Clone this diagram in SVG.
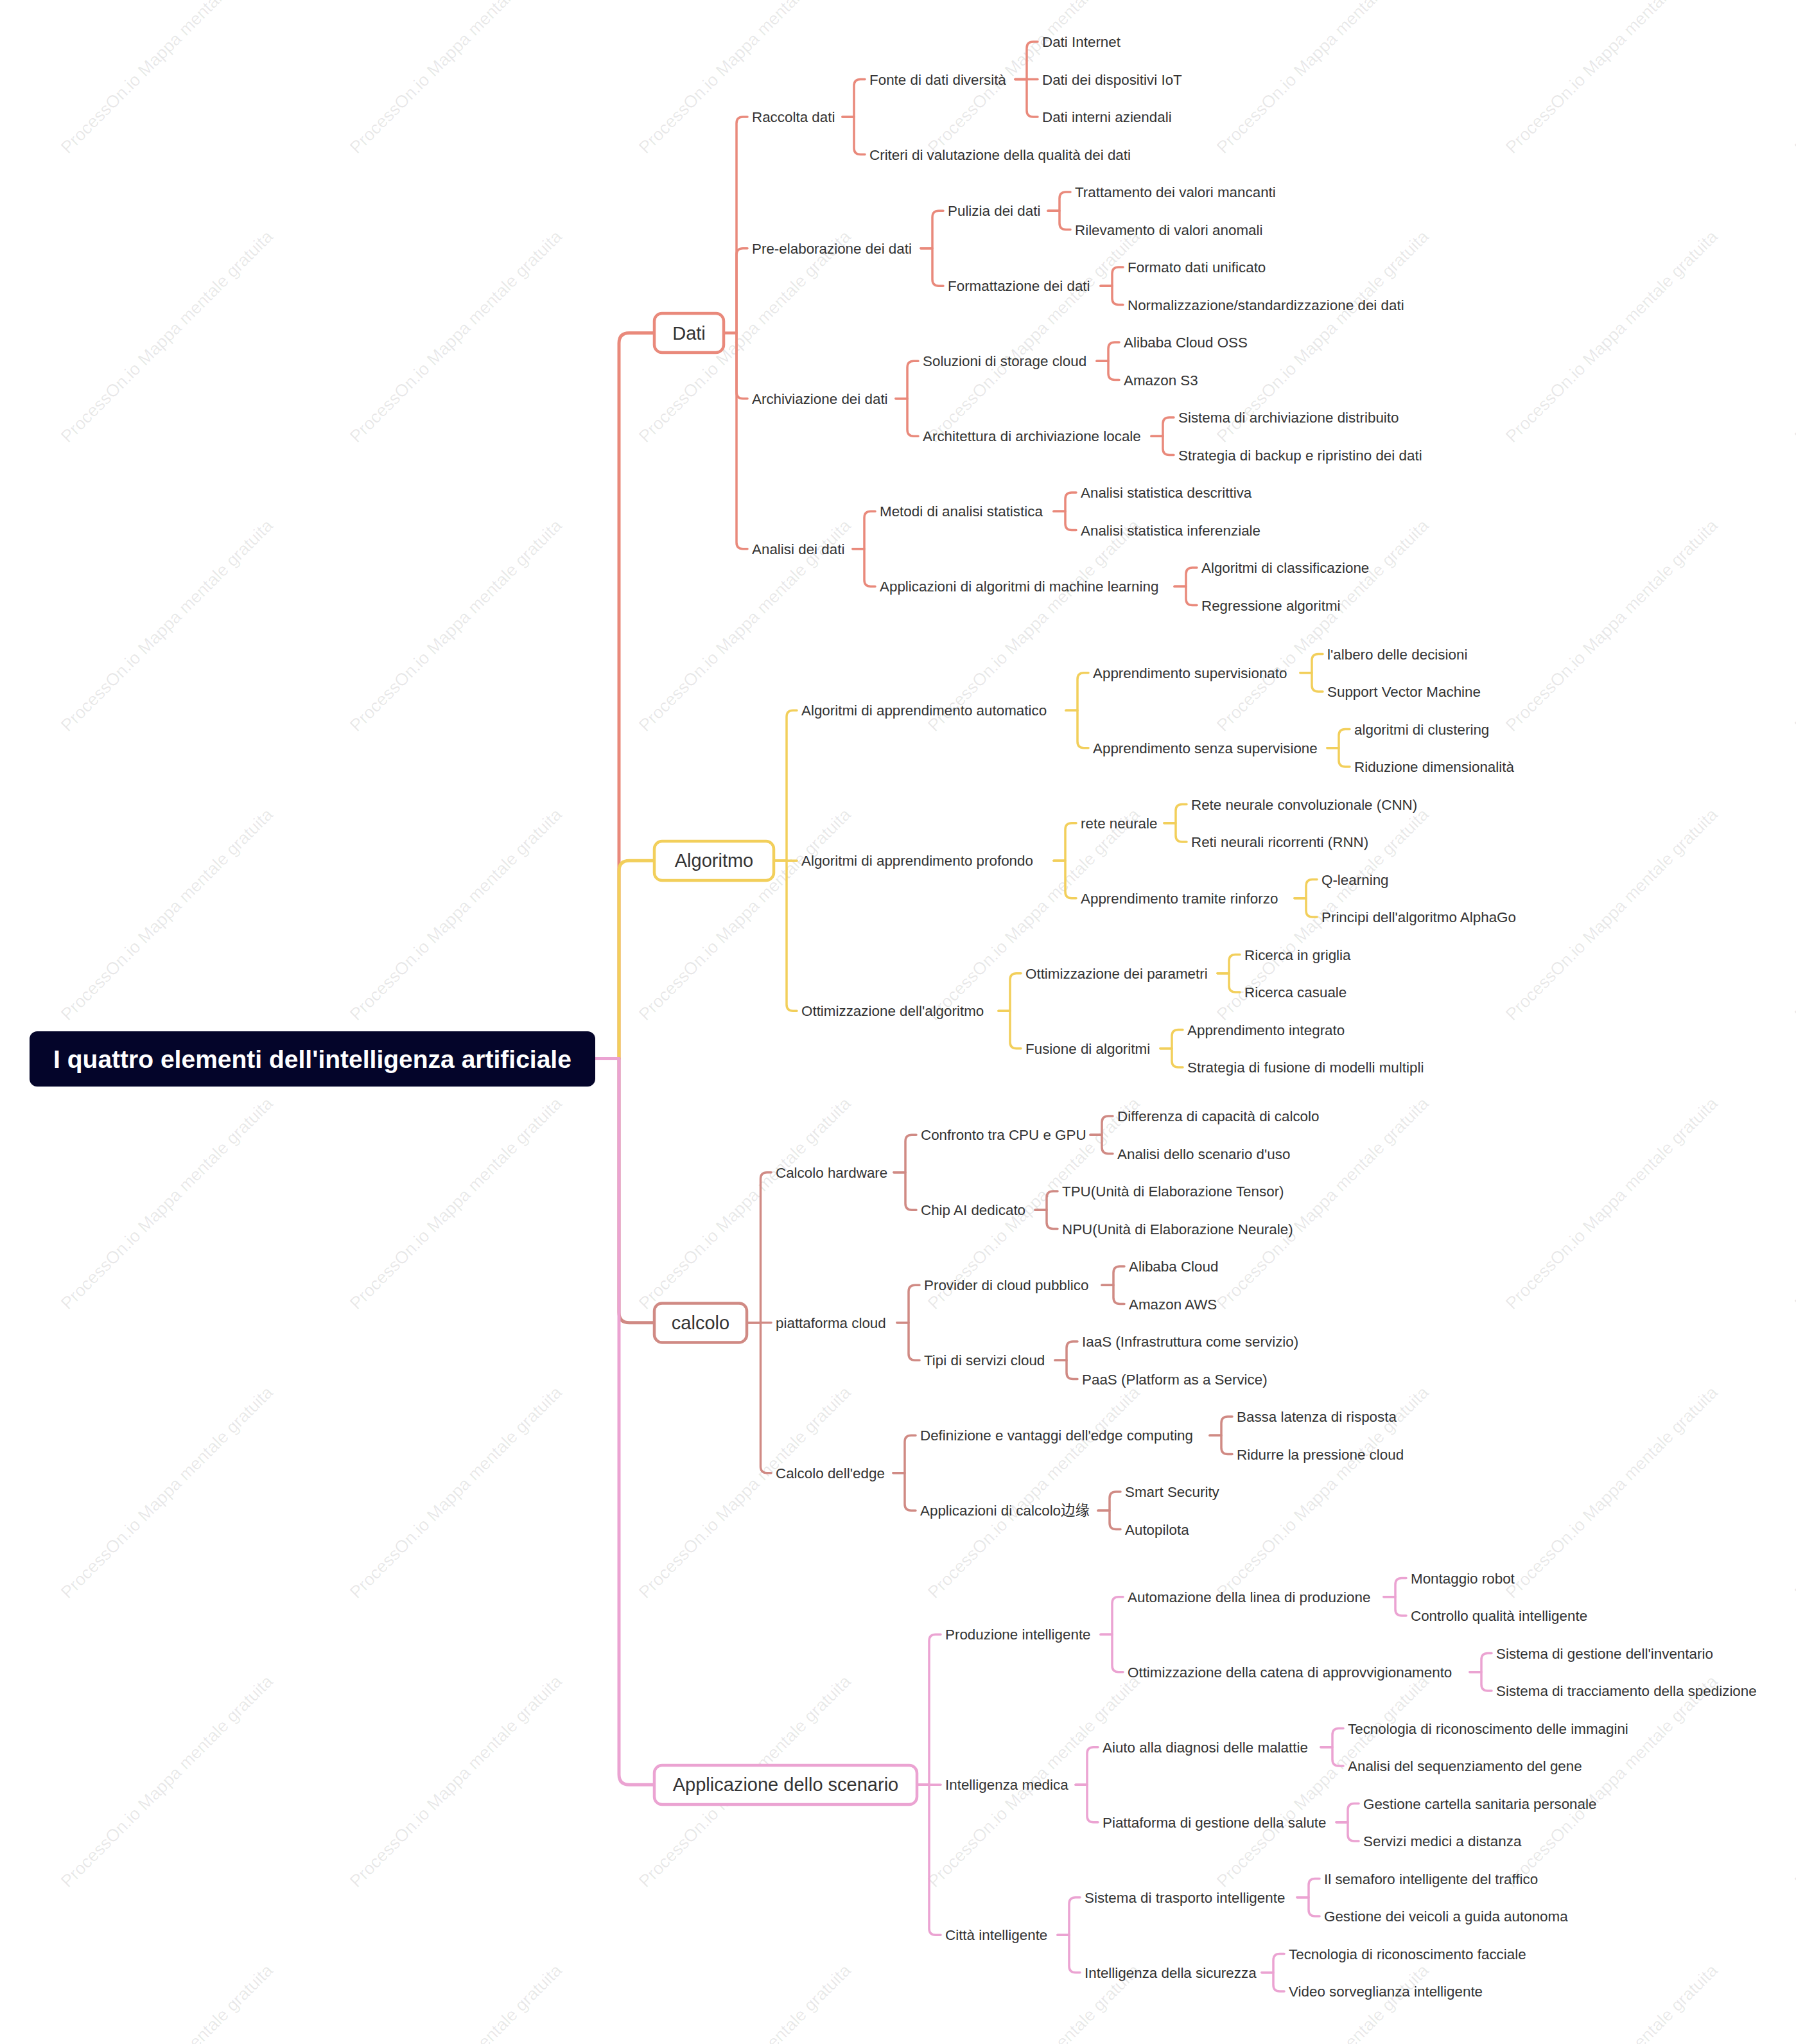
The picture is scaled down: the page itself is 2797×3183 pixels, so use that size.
<svg xmlns="http://www.w3.org/2000/svg" xmlns:xlink="http://www.w3.org/1999/xlink" width="2797" height="3183" viewBox="0 0 2797 3183">
<defs>
<style>
.t{font-family:"Liberation Sans",Arial,"Noto Sans CJK SC",sans-serif;font-size:22.4px;fill:#333333}
.t1{font-family:"Liberation Sans",Arial,"Noto Sans CJK SC",sans-serif;font-size:29px;fill:#333333;text-anchor:middle}
.root{font-family:"Liberation Sans",Arial,sans-serif;font-size:39px;font-weight:bold;fill:#ffffff;text-anchor:middle}
.wm{font-family:"Liberation Sans",Arial,sans-serif;font-size:27px;fill:#000000;fill-opacity:0.09;text-anchor:middle}
.c{fill:none;stroke-linecap:round;stroke-linejoin:round;stroke-width:3.5}
.tr{fill:none;stroke-linejoin:round;stroke-width:5}
.d{stroke:#E9897B}
.a{stroke:#F2CF5B}
.k{stroke:#D08A84}
.p{stroke:#EBA3D2}
.box{fill:#ffffff;stroke-width:4.5}
</style>
<text id="wm" class="wm" x="0" y="9">ProcessOn.io Mappa mentale gratuita</text>
</defs>
<rect width="2797" height="3183" fill="#ffffff"/>
<g id="watermarks">
<use xlink:href="#wm" transform="translate(260,74) rotate(-45)"/><use xlink:href="#wm" transform="translate(710,74) rotate(-45)"/><use xlink:href="#wm" transform="translate(1160,74) rotate(-45)"/><use xlink:href="#wm" transform="translate(1610,74) rotate(-45)"/><use xlink:href="#wm" transform="translate(2060,74) rotate(-45)"/><use xlink:href="#wm" transform="translate(2510,74) rotate(-45)"/><use xlink:href="#wm" transform="translate(2960,74) rotate(-45)"/>
<use xlink:href="#wm" transform="translate(260,524) rotate(-45)"/><use xlink:href="#wm" transform="translate(710,524) rotate(-45)"/><use xlink:href="#wm" transform="translate(1160,524) rotate(-45)"/><use xlink:href="#wm" transform="translate(1610,524) rotate(-45)"/><use xlink:href="#wm" transform="translate(2060,524) rotate(-45)"/><use xlink:href="#wm" transform="translate(2510,524) rotate(-45)"/><use xlink:href="#wm" transform="translate(2960,524) rotate(-45)"/>
<use xlink:href="#wm" transform="translate(260,974) rotate(-45)"/><use xlink:href="#wm" transform="translate(710,974) rotate(-45)"/><use xlink:href="#wm" transform="translate(1160,974) rotate(-45)"/><use xlink:href="#wm" transform="translate(1610,974) rotate(-45)"/><use xlink:href="#wm" transform="translate(2060,974) rotate(-45)"/><use xlink:href="#wm" transform="translate(2510,974) rotate(-45)"/><use xlink:href="#wm" transform="translate(2960,974) rotate(-45)"/>
<use xlink:href="#wm" transform="translate(260,1424) rotate(-45)"/><use xlink:href="#wm" transform="translate(710,1424) rotate(-45)"/><use xlink:href="#wm" transform="translate(1160,1424) rotate(-45)"/><use xlink:href="#wm" transform="translate(1610,1424) rotate(-45)"/><use xlink:href="#wm" transform="translate(2060,1424) rotate(-45)"/><use xlink:href="#wm" transform="translate(2510,1424) rotate(-45)"/><use xlink:href="#wm" transform="translate(2960,1424) rotate(-45)"/>
<use xlink:href="#wm" transform="translate(260,1874) rotate(-45)"/><use xlink:href="#wm" transform="translate(710,1874) rotate(-45)"/><use xlink:href="#wm" transform="translate(1160,1874) rotate(-45)"/><use xlink:href="#wm" transform="translate(1610,1874) rotate(-45)"/><use xlink:href="#wm" transform="translate(2060,1874) rotate(-45)"/><use xlink:href="#wm" transform="translate(2510,1874) rotate(-45)"/><use xlink:href="#wm" transform="translate(2960,1874) rotate(-45)"/>
<use xlink:href="#wm" transform="translate(260,2324) rotate(-45)"/><use xlink:href="#wm" transform="translate(710,2324) rotate(-45)"/><use xlink:href="#wm" transform="translate(1160,2324) rotate(-45)"/><use xlink:href="#wm" transform="translate(1610,2324) rotate(-45)"/><use xlink:href="#wm" transform="translate(2060,2324) rotate(-45)"/><use xlink:href="#wm" transform="translate(2510,2324) rotate(-45)"/><use xlink:href="#wm" transform="translate(2960,2324) rotate(-45)"/>
<use xlink:href="#wm" transform="translate(260,2774) rotate(-45)"/><use xlink:href="#wm" transform="translate(710,2774) rotate(-45)"/><use xlink:href="#wm" transform="translate(1160,2774) rotate(-45)"/><use xlink:href="#wm" transform="translate(1610,2774) rotate(-45)"/><use xlink:href="#wm" transform="translate(2060,2774) rotate(-45)"/><use xlink:href="#wm" transform="translate(2510,2774) rotate(-45)"/><use xlink:href="#wm" transform="translate(2960,2774) rotate(-45)"/>
<use xlink:href="#wm" transform="translate(260,3224) rotate(-45)"/><use xlink:href="#wm" transform="translate(710,3224) rotate(-45)"/><use xlink:href="#wm" transform="translate(1160,3224) rotate(-45)"/><use xlink:href="#wm" transform="translate(1610,3224) rotate(-45)"/><use xlink:href="#wm" transform="translate(2060,3224) rotate(-45)"/><use xlink:href="#wm" transform="translate(2510,3224) rotate(-45)"/><use xlink:href="#wm" transform="translate(2960,3224) rotate(-45)"/>
</g>
<g id="connectors">
<path class="tr d" d="M927,1648.5H964V534.5Q964,518.5 980,518.5H1019"/>
<path class="tr a" d="M927,1648.5H964V1356.25Q964,1340.25 980,1340.25H1019"/>
<path class="tr k" d="M927,1648.5H964V2043.75Q964,2059.75 980,2059.75H1019"/>
<path class="tr p" d="M927,1648.5H964V2763.25Q964,2779.25 980,2779.25H1019"/>
<g class="c d">
<path d="M1129,518.5H1147V192Q1147,182 1157,182H1164"/>
<path d="M1129,518.5H1147V396.75Q1147,386.75 1157,386.75H1164"/>
<path d="M1129,518.5H1147V610.75Q1147,620.75 1157,620.75H1164"/>
<path d="M1129,518.5H1147V844.75Q1147,854.75 1157,854.75H1164"/>
<path d="M1312,182H1330V133.5Q1330,123.5 1340,123.5H1347"/>
<path d="M1312,182H1330V230.5Q1330,240.5 1340,240.5H1347"/>
<path d="M1581,123.5H1599V75Q1599,65 1609,65H1616"/>
<path d="M1581,123.5H1616"/>
<path d="M1581,123.5H1599V172Q1599,182 1609,182H1616"/>
<path d="M1434,386.75H1452V338.25Q1452,328.25 1462,328.25H1469"/>
<path d="M1434,386.75H1452V435.25Q1452,445.25 1462,445.25H1469"/>
<path d="M1632,328.25H1650V309Q1650,299 1660,299H1667"/>
<path d="M1632,328.25H1650V347.5Q1650,357.5 1660,357.5H1667"/>
<path d="M1714,445.25H1732V426Q1732,416 1742,416H1749"/>
<path d="M1714,445.25H1732V464.5Q1732,474.5 1742,474.5H1749"/>
<path d="M1395,620.75H1413V572.25Q1413,562.25 1423,562.25H1430"/>
<path d="M1395,620.75H1413V669.25Q1413,679.25 1423,679.25H1430"/>
<path d="M1708,562.25H1726V543Q1726,533 1736,533H1743"/>
<path d="M1708,562.25H1726V581.5Q1726,591.5 1736,591.5H1743"/>
<path d="M1793,679.25H1811V660Q1811,650 1821,650H1828"/>
<path d="M1793,679.25H1811V698.5Q1811,708.5 1821,708.5H1828"/>
<path d="M1328,854.75H1346V806.25Q1346,796.25 1356,796.25H1363"/>
<path d="M1328,854.75H1346V903.25Q1346,913.25 1356,913.25H1363"/>
<path d="M1641,796.25H1659V777Q1659,767 1669,767H1676"/>
<path d="M1641,796.25H1659V815.5Q1659,825.5 1669,825.5H1676"/>
<path d="M1829,913.25H1847V894Q1847,884 1857,884H1864"/>
<path d="M1829,913.25H1847V932.5Q1847,942.5 1857,942.5H1864"/>
</g>
<g class="c a">
<path d="M1207,1340.25H1225V1116.25Q1225,1106.25 1235,1106.25H1241"/>
<path d="M1207,1340.25H1241"/>
<path d="M1207,1340.25H1225V1564.25Q1225,1574.25 1235,1574.25H1241"/>
<path d="M1660,1106.25H1678V1057.75Q1678,1047.75 1688,1047.75H1695"/>
<path d="M1660,1106.25H1678V1154.75Q1678,1164.75 1688,1164.75H1695"/>
<path d="M2025,1047.75H2043V1028.5Q2043,1018.5 2053,1018.5H2060"/>
<path d="M2025,1047.75H2043V1067Q2043,1077 2053,1077H2060"/>
<path d="M2067,1164.75H2085V1145.5Q2085,1135.5 2095,1135.5H2102"/>
<path d="M2067,1164.75H2085V1184Q2085,1194 2095,1194H2102"/>
<path d="M1641,1340.25H1659V1291.75Q1659,1281.75 1669,1281.75H1676"/>
<path d="M1641,1340.25H1659V1388.75Q1659,1398.75 1669,1398.75H1676"/>
<path d="M1813,1281.75H1831V1262.5Q1831,1252.5 1841,1252.5H1848"/>
<path d="M1813,1281.75H1831V1301Q1831,1311 1841,1311H1848"/>
<path d="M2016,1398.75H2034V1379.5Q2034,1369.5 2044,1369.5H2051"/>
<path d="M2016,1398.75H2034V1418Q2034,1428 2044,1428H2051"/>
<path d="M1555,1574.25H1573V1525.75Q1573,1515.75 1583,1515.75H1590"/>
<path d="M1555,1574.25H1573V1622.75Q1573,1632.75 1583,1632.75H1590"/>
<path d="M1896,1515.75H1914V1496.5Q1914,1486.5 1924,1486.5H1931"/>
<path d="M1896,1515.75H1914V1535Q1914,1545 1924,1545H1931"/>
<path d="M1807,1632.75H1825V1613.5Q1825,1603.5 1835,1603.5H1842"/>
<path d="M1807,1632.75H1825V1652Q1825,1662 1835,1662H1842"/>
</g>
<g class="c k">
<path d="M1165,2059.75H1184.5V1835.75Q1184.5,1825.75 1194.5,1825.75H1201"/>
<path d="M1165,2059.75H1201"/>
<path d="M1165,2059.75H1184.5V2283.75Q1184.5,2293.75 1194.5,2293.75H1201"/>
<path d="M1392,1825.75H1410V1777.25Q1410,1767.25 1420,1767.25H1427"/>
<path d="M1392,1825.75H1410V1874.25Q1410,1884.25 1420,1884.25H1427"/>
<path d="M1698,1767.25H1716V1748Q1716,1738 1726,1738H1733"/>
<path d="M1698,1767.25H1716V1786.5Q1716,1796.5 1726,1796.5H1733"/>
<path d="M1612,1884.25H1630V1865Q1630,1855 1640,1855H1647"/>
<path d="M1612,1884.25H1630V1903.5Q1630,1913.5 1640,1913.5H1647"/>
<path d="M1397,2059.75H1415V2011.25Q1415,2001.25 1425,2001.25H1432"/>
<path d="M1397,2059.75H1415V2108.25Q1415,2118.25 1425,2118.25H1432"/>
<path d="M1716,2001.25H1734V1982Q1734,1972 1744,1972H1751"/>
<path d="M1716,2001.25H1734V2020.5Q1734,2030.5 1744,2030.5H1751"/>
<path d="M1643,2118.25H1661V2099Q1661,2089 1671,2089H1678"/>
<path d="M1643,2118.25H1661V2137.5Q1661,2147.5 1671,2147.5H1678"/>
<path d="M1391,2293.75H1409V2245.25Q1409,2235.25 1419,2235.25H1426"/>
<path d="M1391,2293.75H1409V2342.25Q1409,2352.25 1419,2352.25H1426"/>
<path d="M1884,2235.25H1902V2216Q1902,2206 1912,2206H1919"/>
<path d="M1884,2235.25H1902V2254.5Q1902,2264.5 1912,2264.5H1919"/>
<path d="M1710,2352.25H1728V2333Q1728,2323 1738,2323H1745"/>
<path d="M1710,2352.25H1728V2371.5Q1728,2381.5 1738,2381.5H1745"/>
</g>
<g class="c p">
<path d="M1430,2779.25H1447V2555.25Q1447,2545.25 1457,2545.25H1465"/>
<path d="M1430,2779.25H1465"/>
<path d="M1430,2779.25H1447V3003.25Q1447,3013.25 1457,3013.25H1465"/>
<path d="M1714,2545.25H1732V2496.75Q1732,2486.75 1742,2486.75H1749"/>
<path d="M1714,2545.25H1732V2593.75Q1732,2603.75 1742,2603.75H1749"/>
<path d="M2155,2486.75H2173V2467.5Q2173,2457.5 2183,2457.5H2190"/>
<path d="M2155,2486.75H2173V2506Q2173,2516 2183,2516H2190"/>
<path d="M2289,2603.75H2307V2584.5Q2307,2574.5 2317,2574.5H2323"/>
<path d="M2289,2603.75H2307V2623Q2307,2633 2317,2633H2323"/>
<path d="M1675,2779.25H1693V2730.75Q1693,2720.75 1703,2720.75H1710"/>
<path d="M1675,2779.25H1693V2827.75Q1693,2837.75 1703,2837.75H1710"/>
<path d="M2057,2720.75H2075V2701.5Q2075,2691.5 2085,2691.5H2092"/>
<path d="M2057,2720.75H2075V2740Q2075,2750 2085,2750H2092"/>
<path d="M2081,2837.75H2099V2818.5Q2099,2808.5 2109,2808.5H2116"/>
<path d="M2081,2837.75H2099V2857Q2099,2867 2109,2867H2116"/>
<path d="M1647,3013.25H1665V2964.75Q1665,2954.75 1675,2954.75H1682"/>
<path d="M1647,3013.25H1665V3061.75Q1665,3071.75 1675,3071.75H1682"/>
<path d="M2020,2954.75H2038V2935.5Q2038,2925.5 2048,2925.5H2055"/>
<path d="M2020,2954.75H2038V2974Q2038,2984 2048,2984H2055"/>
<path d="M1965,3071.75H1983V3052.5Q1983,3042.5 1993,3042.5H2000"/>
<path d="M1965,3071.75H1983V3091Q1983,3101 1993,3101H2000"/>
</g>
</g>
<g id="n-root"><rect x="46" y="1606" width="881" height="86" rx="12" fill="#04052A"/><text class="root" x="486.5" y="1662.5">I quattro elementi dell'intelligenza artificiale</text></g>
<g id="n-dati"><rect class="box d" x="1019" y="488" width="108" height="61" rx="12"/><text class="t1" x="1073" y="528.5">Dati</text></g>
<g id="n-algoritmo"><rect class="box a" x="1019" y="1310" width="186" height="61" rx="12"/><text class="t1" x="1112" y="1350.25">Algoritmo</text></g>
<g id="n-calcolo"><rect class="box k" x="1019" y="2029.5" width="144" height="61" rx="12"/><text class="t1" x="1091" y="2069.75">calcolo</text></g>
<g id="n-applicazione"><rect class="box p" x="1019" y="2749" width="409" height="61" rx="12"/><text class="t1" x="1223.5" y="2789.25">Applicazione dello scenario</text></g>
<g id="n-raccolta"><text class="t" x="1171" y="190">Raccolta dati</text></g>
<g id="n-fonte"><text class="t" x="1354" y="131.5">Fonte di dati diversità</text></g>
<g id="n-internet"><text class="t" x="1623" y="73">Dati Internet</text></g>
<g id="n-iot"><text class="t" x="1623" y="131.5">Dati dei dispositivi IoT</text></g>
<g id="n-interni"><text class="t" x="1623" y="190">Dati interni aziendali</text></g>
<g id="n-criteri"><text class="t" x="1354" y="248.5">Criteri di valutazione della qualità dei dati</text></g>
<g id="n-pre"><text class="t" x="1171" y="394.75">Pre-elaborazione dei dati</text></g>
<g id="n-pulizia"><text class="t" x="1476" y="336.25">Pulizia dei dati</text></g>
<g id="n-trattamento"><text class="t" x="1674" y="307">Trattamento dei valori mancanti</text></g>
<g id="n-rilevamento"><text class="t" x="1674" y="365.5">Rilevamento di valori anomali</text></g>
<g id="n-formattazione"><text class="t" x="1476" y="453.25">Formattazione dei dati</text></g>
<g id="n-formato"><text class="t" x="1756" y="424">Formato dati unificato</text></g>
<g id="n-normalizzazione"><text class="t" x="1756" y="482.5">Normalizzazione/standardizzazione dei dati</text></g>
<g id="n-archiviazione"><text class="t" x="1171" y="628.75">Archiviazione dei dati</text></g>
<g id="n-soluzioni"><text class="t" x="1437" y="570.25">Soluzioni di storage cloud</text></g>
<g id="n-oss"><text class="t" x="1750" y="541">Alibaba Cloud OSS</text></g>
<g id="n-s3"><text class="t" x="1750" y="599.5">Amazon S3</text></g>
<g id="n-architettura"><text class="t" x="1437" y="687.25">Architettura di archiviazione locale</text></g>
<g id="n-distribuito"><text class="t" x="1835" y="658">Sistema di archiviazione distribuito</text></g>
<g id="n-backup"><text class="t" x="1835" y="716.5">Strategia di backup e ripristino dei dati</text></g>
<g id="n-analisi"><text class="t" x="1171" y="862.75">Analisi dei dati</text></g>
<g id="n-metodi"><text class="t" x="1370" y="804.25">Metodi di analisi statistica</text></g>
<g id="n-descrittiva"><text class="t" x="1683" y="775">Analisi statistica descrittiva</text></g>
<g id="n-inferenziale"><text class="t" x="1683" y="833.5">Analisi statistica inferenziale</text></g>
<g id="n-ml"><text class="t" x="1370" y="921.25">Applicazioni di algoritmi di machine learning</text></g>
<g id="n-classificazione"><text class="t" x="1871" y="892">Algoritmi di classificazione</text></g>
<g id="n-regressione"><text class="t" x="1871" y="950.5">Regressione algoritmi</text></g>
<g id="n-auto"><text class="t" x="1248" y="1114.25">Algoritmi di apprendimento automatico</text></g>
<g id="n-sup"><text class="t" x="1702" y="1055.75">Apprendimento supervisionato</text></g>
<g id="n-albero"><text class="t" x="2067" y="1026.5">l'albero delle decisioni</text></g>
<g id="n-svm"><text class="t" x="2067" y="1085">Support Vector Machine</text></g>
<g id="n-senza"><text class="t" x="1702" y="1172.75">Apprendimento senza supervisione</text></g>
<g id="n-clustering"><text class="t" x="2109" y="1143.5">algoritmi di clustering</text></g>
<g id="n-riduzione"><text class="t" x="2109" y="1202">Riduzione dimensionalità</text></g>
<g id="n-profondo"><text class="t" x="1248" y="1348.25">Algoritmi di apprendimento profondo</text></g>
<g id="n-rete"><text class="t" x="1683" y="1289.75">rete neurale</text></g>
<g id="n-cnn"><text class="t" x="1855" y="1260.5">Rete neurale convoluzionale (CNN)</text></g>
<g id="n-rnn"><text class="t" x="1855" y="1319">Reti neurali ricorrenti (RNN)</text></g>
<g id="n-rinforzo"><text class="t" x="1683" y="1406.75">Apprendimento tramite rinforzo</text></g>
<g id="n-qlearning"><text class="t" x="2058" y="1377.5">Q-learning</text></g>
<g id="n-alphago"><text class="t" x="2058" y="1436">Principi dell'algoritmo AlphaGo</text></g>
<g id="n-ottim"><text class="t" x="1248" y="1582.25">Ottimizzazione dell'algoritmo</text></g>
<g id="n-param"><text class="t" x="1597" y="1523.75">Ottimizzazione dei parametri</text></g>
<g id="n-griglia"><text class="t" x="1938" y="1494.5">Ricerca in griglia</text></g>
<g id="n-casuale"><text class="t" x="1938" y="1553">Ricerca casuale</text></g>
<g id="n-fusione"><text class="t" x="1597" y="1640.75">Fusione di algoritmi</text></g>
<g id="n-integrato"><text class="t" x="1849" y="1611.5">Apprendimento integrato</text></g>
<g id="n-multipli"><text class="t" x="1849" y="1670">Strategia di fusione di modelli multipli</text></g>
<g id="n-hardware"><text class="t" x="1208" y="1833.75">Calcolo hardware</text></g>
<g id="n-confronto"><text class="t" x="1434" y="1775.25">Confronto tra CPU e GPU</text></g>
<g id="n-differenza"><text class="t" x="1740" y="1746">Differenza di capacità di calcolo</text></g>
<g id="n-scenario-uso"><text class="t" x="1740" y="1804.5">Analisi dello scenario d'uso</text></g>
<g id="n-chip"><text class="t" x="1434" y="1892.25">Chip AI dedicato</text></g>
<g id="n-tpu"><text class="t" x="1654" y="1863">TPU(Unità di Elaborazione Tensor)</text></g>
<g id="n-npu"><text class="t" x="1654" y="1921.5">NPU(Unità di Elaborazione Neurale)</text></g>
<g id="n-piattaforma-cloud"><text class="t" x="1208" y="2067.75">piattaforma cloud</text></g>
<g id="n-provider"><text class="t" x="1439" y="2009.25">Provider di cloud pubblico</text></g>
<g id="n-alibaba"><text class="t" x="1758" y="1980">Alibaba Cloud</text></g>
<g id="n-aws"><text class="t" x="1758" y="2038.5">Amazon AWS</text></g>
<g id="n-tipi"><text class="t" x="1439" y="2126.25">Tipi di servizi cloud</text></g>
<g id="n-iaas"><text class="t" x="1685" y="2097">IaaS (Infrastruttura come servizio)</text></g>
<g id="n-paas"><text class="t" x="1685" y="2155.5">PaaS (Platform as a Service)</text></g>
<g id="n-edge"><text class="t" x="1208" y="2301.75">Calcolo dell'edge</text></g>
<g id="n-definizione"><text class="t" x="1433" y="2243.25">Definizione e vantaggi dell'edge computing</text></g>
<g id="n-latenza"><text class="t" x="1926" y="2214">Bassa latenza di risposta</text></g>
<g id="n-pressione"><text class="t" x="1926" y="2272.5">Ridurre la pressione cloud</text></g>
<g id="n-app-edge"><text class="t" x="1433" y="2360.25">Applicazioni di calcolo边缘</text></g>
<g id="n-security"><text class="t" x="1752" y="2331">Smart Security</text></g>
<g id="n-autopilota"><text class="t" x="1752" y="2389.5">Autopilota</text></g>
<g id="n-produzione"><text class="t" x="1472" y="2553.25">Produzione intelligente</text></g>
<g id="n-automazione"><text class="t" x="1756" y="2494.75">Automazione della linea di produzione</text></g>
<g id="n-montaggio"><text class="t" x="2197" y="2465.5">Montaggio robot</text></g>
<g id="n-controllo"><text class="t" x="2197" y="2524">Controllo qualità intelligente</text></g>
<g id="n-catena"><text class="t" x="1756" y="2611.75">Ottimizzazione della catena di approvvigionamento</text></g>
<g id="n-inventario"><text class="t" x="2330" y="2582.5">Sistema di gestione dell'inventario</text></g>
<g id="n-spedizione"><text class="t" x="2330" y="2641">Sistema di tracciamento della spedizione</text></g>
<g id="n-medica"><text class="t" x="1472" y="2787.25">Intelligenza medica</text></g>
<g id="n-diagnosi"><text class="t" x="1717" y="2728.75">Aiuto alla diagnosi delle malattie</text></g>
<g id="n-immagini"><text class="t" x="2099" y="2699.5">Tecnologia di riconoscimento delle immagini</text></g>
<g id="n-gene"><text class="t" x="2099" y="2758">Analisi del sequenziamento del gene</text></g>
<g id="n-salute"><text class="t" x="1717" y="2845.75">Piattaforma di gestione della salute</text></g>
<g id="n-cartella"><text class="t" x="2123" y="2816.5">Gestione cartella sanitaria personale</text></g>
<g id="n-distanza"><text class="t" x="2123" y="2875">Servizi medici a distanza</text></g>
<g id="n-citta"><text class="t" x="1472" y="3021.25">Città intelligente</text></g>
<g id="n-trasporto"><text class="t" x="1689" y="2962.75">Sistema di trasporto intelligente</text></g>
<g id="n-semaforo"><text class="t" x="2062" y="2933.5">Il semaforo intelligente del traffico</text></g>
<g id="n-veicoli"><text class="t" x="2062" y="2992">Gestione dei veicoli a guida autonoma</text></g>
<g id="n-sicurezza"><text class="t" x="1689" y="3079.75">Intelligenza della sicurezza</text></g>
<g id="n-facciale"><text class="t" x="2007" y="3050.5">Tecnologia di riconoscimento facciale</text></g>
<g id="n-video"><text class="t" x="2007" y="3109">Video sorveglianza intelligente</text></g>
</svg>
